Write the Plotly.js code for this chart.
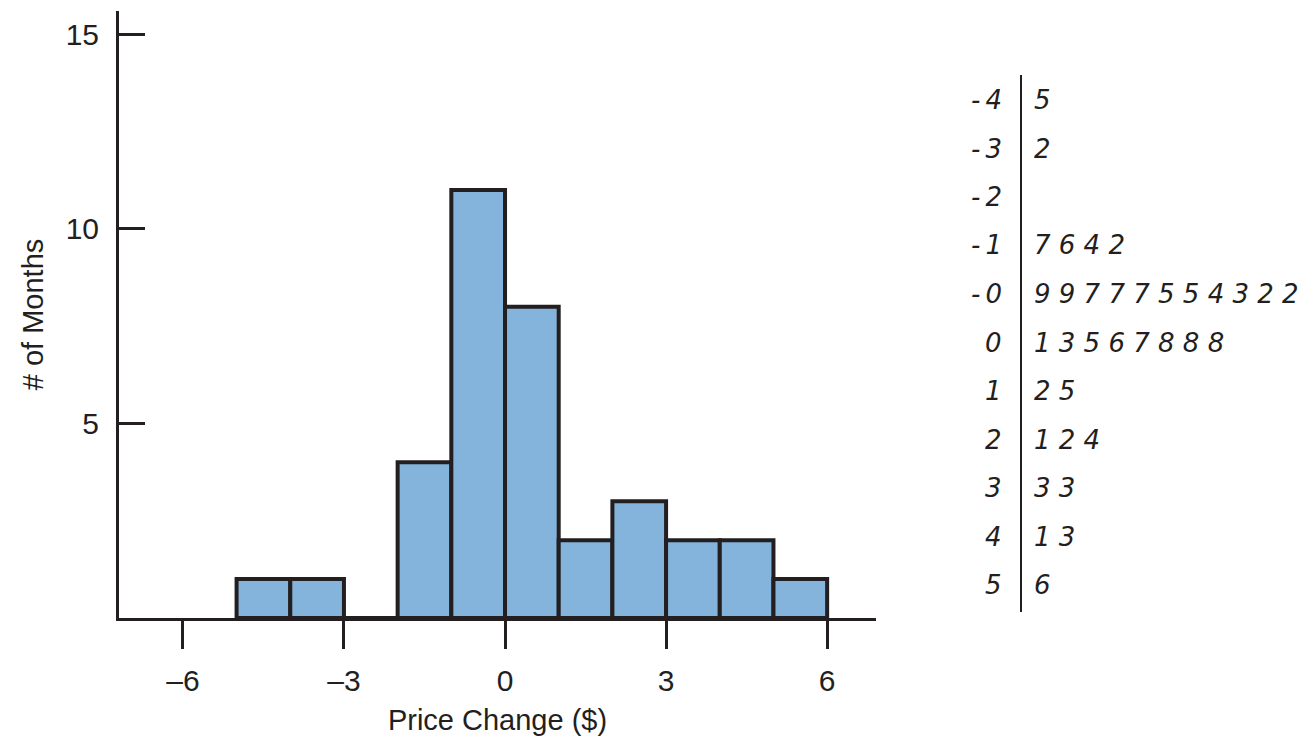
<!DOCTYPE html>
<html>
<head>
<meta charset="utf-8">
<script src="https://cdn.plot.ly/plotly-3.0.1.min.js"></script>
<style>
  html, body { margin: 0; padding: 0; background: #ffffff; }
  #chart { width: 1311px; height: 746px; }
</style>
</head>
<body>
<div id="chart"></div>
<script>
// ---- Data ----
const binCenters = [-4.5, -3.5, -2.5, -1.5, -0.5, 0.5, 1.5, 2.5, 3.5, 4.5, 5.5];
const monthCounts = [1, 1, 0, 4, 11, 8, 2, 3, 2, 2, 1];
const xTickVals = [-6, -3, 0, 3, 6];
const xTickText = ["\u20136", "\u20133", "0", "3", "6"];
const yTickVals = [5, 10, 15];
const yTickText = ["5", "10", "15"];
const stems = ["-4", "-3", "-2", "-1", "-0", "0", "1", "2", "3", "4", "5"];
const leaves = ["5", "2", "", "7642", "99777554322", "13567888", "25", "124", "33", "13", "6"];

// ---- Layout helpers (pixel -> paper) ----
const W = 1311, H = 746;
const mL = 119, mR = W - 876, mT = 11, mB = H - 618;
const plotW = W - mL - mR, plotH = H - mT - mB;
const px = X => (X - mL) / plotW;
const py = Y => (H - mB - Y) / plotH;

const ink = '#231f20';
const font = 'Liberation Sans Narrow, Liberation Sans, Arial, sans-serif';
const handFont = 'DejaVu Sans, sans-serif';

const annotations = [];
const rowTop = 100, rowStep = 48.5;
stems.forEach((s, i) => {
  const y = py(rowTop + i * rowStep);
  annotations.push({
    xref: 'paper', yref: 'paper', x: px(1004), y: y,
    xanchor: 'right', yanchor: 'middle', showarrow: false,
    text: s.replace('-', '-\u2009'),
    font: { family: handFont, size: 26, color: ink, style: 'italic' }
  });
  if (leaves[i].length) {
    annotations.push({
      xref: 'paper', yref: 'paper', x: px(1032), y: y,
      xanchor: 'left', yanchor: 'middle', showarrow: false,
      text: leaves[i].split('').join('\u00a0'),
      font: { family: handFont, size: 26, color: ink, style: 'italic' }
    });
  }
});

const trace = {
  type: 'bar',
  x: binCenters,
  y: monthCounts,
  width: 1,
  marker: { color: '#84b3dc', line: { color: ink, width: 4 } },
  hoverinfo: 'x+y'
};

const layout = {
  width: W, height: H,
  margin: { l: mL, r: mR, t: mT, b: mB, pad: 0 },
  paper_bgcolor: '#ffffff', plot_bgcolor: '#ffffff',
  showlegend: false,
  bargap: 0,
  font: { family: font, color: ink },
  xaxis: {
    range: [-7.19, 6.91],
    tickmode: 'array', tickvals: xTickVals, ticktext: xTickText,
    ticks: 'outside', ticklen: 28, tickwidth: 3, tickcolor: ink,
    ticklabelstandoff: 6,
    showline: true, linecolor: ink, linewidth: 3,
    showgrid: false, zeroline: false,
    tickfont: { family: font, size: 30, color: ink },
    title: { text: 'Price Change ($)', font: { family: font, size: 29, color: ink }, standoff: 14 }
  },
  yaxis: {
    range: [0, 15.6],
    tickmode: 'array', tickvals: yTickVals, ticktext: yTickText,
    ticks: 'inside', ticklen: 26, tickwidth: 3, tickcolor: ink,
    ticklabelstandoff: 11,
    showline: true, linecolor: ink, linewidth: 3,
    showgrid: false, zeroline: false,
    tickfont: { family: font, size: 30, color: ink },
    title: { text: '# of Months', font: { family: font, size: 29, color: ink }, standoff: 14 }
  },
  shapes: [{
    type: 'line', xref: 'paper', yref: 'paper',
    x0: px(1021), x1: px(1021), y0: py(75), y1: py(612),
    line: { color: ink, width: 2 }
  }],
  annotations: annotations
};

Plotly.newPlot('chart', [trace], layout, { displayModeBar: false, staticPlot: true });
</script>
</body>
</html>
